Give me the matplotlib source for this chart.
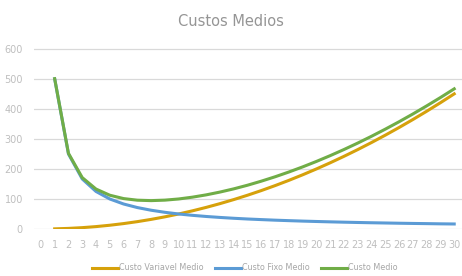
import matplotlib
matplotlib.use('Agg')
import matplotlib.pyplot as plt

# Quantities (x) and average costs
quantidade = list(range(1, 31))
custo_variavel_medio = [0.5, 2, 4.5, 8, 12.5, 18, 24.5, 32, 40.5, 50,
                        60.5, 72, 84.5, 98, 112.5, 128, 144.5, 162, 180.5, 200,
                        220.5, 242, 264.5, 288, 312.5, 338, 364.5, 392, 420.5, 450]
custo_fixo_medio = [500, 250, 166.7, 125, 100, 83.3, 71.4, 62.5, 55.6, 50,
                    45.5, 41.7, 38.5, 35.7, 33.3, 31.3, 29.4, 27.8, 26.3, 25,
                    23.8, 22.7, 21.7, 20.8, 20, 19.2, 18.5, 17.9, 17.2, 16.7]
custo_medio = [500.5, 252, 171.2, 133, 112.5, 101.3, 95.9, 94.5, 96.1, 100,
               106, 113.7, 123, 133.7, 145.8, 159.3, 173.9, 189.8, 206.8, 225,
               244.3, 264.7, 286.2, 308.8, 332.5, 357.2, 383, 409.9, 437.7, 466.7]
x_ticks = list(range(0, 32))
y_ticks = [0, 100, 200, 300, 400, 500, 600]

plt.rcParams['font.family'] = ['Liberation Sans Narrow', 'DejaVu Sans']

fig = plt.figure(figsize=(4.62, 2.76), dpi=100)
# axes extends past the right edge, as in the cropped original
ax = fig.add_axes([34 / 462, 47 / 276, (468 - 34) / 462, (229 - 47) / 276])

ax.plot(quantidade, custo_variavel_medio, color='#D6A10B', lw=2.2, label='Custo Variavel Medio')
ax.plot(quantidade, custo_fixo_medio, color='#5B9BD5', lw=2.2, label='Custo Fixo Medio')
ax.plot(quantidade, custo_medio, color='#70AD47', lw=2.2, label='Custo Medio')

ax.set_xlim(-0.5, 30.5)
ax.set_ylim(0, 606)
ax.set_xticks(x_ticks)
ax.set_yticks(y_ticks)
ax.tick_params(length=0, labelsize=7, colors='#BFBFBF', pad=8)
ax.grid(axis='y', color='#D9D9D9', lw=0.9)
ax.set_axisbelow(True)
for s in ax.spines.values():
    s.set_visible(False)

fig.text(0.5, 1 - 22 / 276, 'Custos Medios', ha='center', va='center',
         fontsize=10.5, color='#959595')

leg = fig.legend(loc='center', bbox_to_anchor=(0.53, 1 - 268 / 276), ncol=3,
                 frameon=False, fontsize=5.8, handlelength=3.3, handletextpad=0.15,
                 columnspacing=1.3)
for t in leg.get_texts():
    t.set_color('#A6A6A6')

fig.savefig('out.png', dpi=100)
